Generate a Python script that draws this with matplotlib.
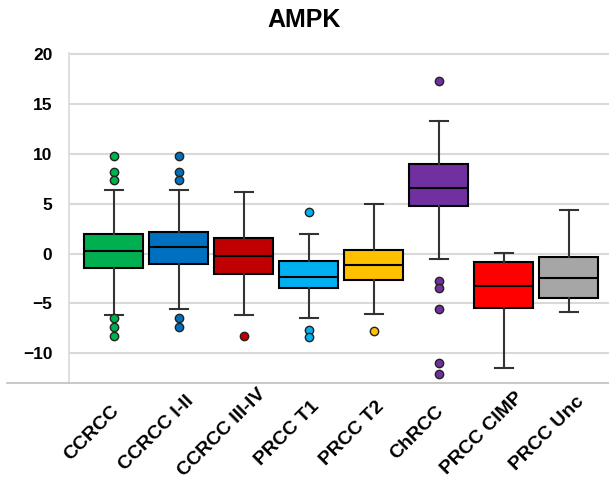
import matplotlib.pyplot as plt
from matplotlib.lines import Line2D
from matplotlib.transforms import ScaledTranslation, blended_transform_factory

categories = ["CCRCC", "CCRCC I-II", "CCRCC III-IV", "PRCC T1", "PRCC T2",
              "ChRCC", "PRCC CIMP", "PRCC Unc"]
whisker_low = [-6.15, -5.55, -6.15, -6.5, -6.05, -0.55, -11.45, -5.85]
q1 = [-1.45, -1.05, -2.1, -3.5, -2.65, 4.8, -5.45, -4.5]
median = [0.3, 0.7, -0.2, -2.35, -1.15, 6.6, -3.3, -2.45]
q3 = [2.0, 2.15, 1.55, -0.7, 0.4, 9.0, -0.85, -0.35]
whisker_high = [6.4, 6.4, 6.2, 1.95, 5.0, 13.35, 0.1, 4.35]
outliers = [
    [9.8, 8.2, 7.4, -6.5, -7.4, -8.3],
    [9.8, 8.2, 7.4, -6.5, -7.4],
    [-8.3],
    [4.2, -7.7, -8.4],
    [-7.8],
    [17.3, -2.8, -3.5, -5.6, -10.95, -12.1],
    [],
    [],
]
colors = ["#00b050", "#0070c0", "#c00000", "#00b0f0", "#ffc000",
          "#7030a0", "#ff0000", "#a6a6a6"]

stats = []
for i, name in enumerate(categories):
    stats.append({
        "label": name,
        "whislo": whisker_low[i],
        "q1": q1[i],
        "med": median[i],
        "q3": q3[i],
        "whishi": whisker_high[i],
        "fliers": outliers[i],
    })

fig = plt.figure(figsize=(6.09, 4.83), dpi=100)
ax = fig.add_axes([69 / 609, 100 / 483, 540 / 609, 330 / 483])

bp = ax.bxp(stats, positions=range(len(categories)), widths=0.91,
            patch_artist=True, showfliers=True,
            boxprops=dict(edgecolor="black", linewidth=1.5),
            medianprops=dict(color="black", linewidth=1.5),
            whiskerprops=dict(color="#333333", linewidth=1.5),
            capprops=dict(color="#333333", linewidth=1.5),
            capwidths=0.28)
for patch, c in zip(bp["boxes"], colors):
    patch.set_facecolor(c)
for fl, c in zip(bp["fliers"], colors):
    fl.set(marker="o", markerfacecolor=c, markeredgecolor="#222222",
           markersize=6, markeredgewidth=1.0)

ax.set_xlim(-0.69, 7.62)
ax.set_ylim(-13, 20.15)
ax.set_yticks([-10, -5, 0, 5, 10, 15, 20])
ax.yaxis.grid(True, color="#d9d9d9", linewidth=1.5)
ax.set_axisbelow(True)
for s in ["top", "right", "bottom"]:
    ax.spines[s].set_visible(False)
ax.spines["left"].set_color("#d9d9d9")
ax.spines["left"].set_linewidth(1.2)
ax.tick_params(axis="both", length=0, labelsize=12.5)
ax.tick_params(axis="y", pad=12)
for lab in ax.get_yticklabels():
    lab.set_fontweight("bold")
    lab.set_fontfamily("Liberation Sans")

# category labels: rotated, centred a fixed offset below/left of each tick
ax.set_xticks(range(len(categories)))
ax.set_xticklabels([])
base = blended_transform_factory(ax.transData, ax.transAxes)
shift = ScaledTranslation(-22 / 100, -50 / 100, fig.dpi_scale_trans)
for i, name in enumerate(categories):
    ax.text(i, 0, name, transform=base + shift, rotation=45,
            rotation_mode="anchor", ha="center", va="center",
            fontsize=14, fontweight="bold", fontfamily="Liberation Sans",
            clip_on=False)

# bottom axis line extends past the left spine
fig.add_artist(Line2D([7 / 609, 1.0], [100 / 483, 100 / 483],
                      color="#bfbfbf", linewidth=1.2))

fig.text(0.5, 1 - 20 / 483, "AMPK", ha="center", va="center",
         fontsize=18, fontweight="bold", fontfamily="Liberation Sans")

fig.savefig("out.png", dpi=100)
